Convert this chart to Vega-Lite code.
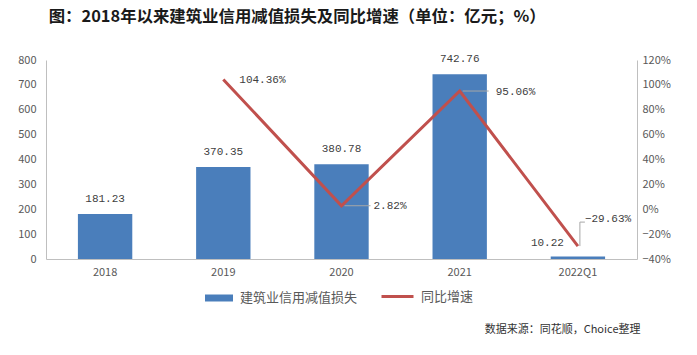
{
  "$schema": "https://vega.github.io/schema/vega-lite/v6.json",
  "width": 591,
  "height": 199,
  "autosize": {"type": "none"},
  "padding": {"left": 46, "top": 60, "right": 60, "bottom": 96},
  "config": {
    "font": "Noto Sans CJK SC",
    "view": {"stroke": null},
    "axis": {"labelColor": "#595959", "labelFontSize": 11, "ticks": false, "grid": false, "domainColor": "#bfbfbf", "labelFont": "Noto Sans CJK SC", "labelOverlap": false}
  },
  "title": {
    "text": "图：2018年以来建筑业信用减值损失及同比增速（单位：亿元；%）",
    "anchor": "start",
    "dx": 31,
    "offset": 28,
    "fontSize": 16.4,
    "fontWeight": "bold",
    "color": "#1a1a1a",
    "font": "Noto Sans CJK SC"
  },
  "data": {
    "values": [
      {"period": "2018", "loss": 181.23, "growth": null},
      {"period": "2019", "loss": 370.35, "growth": 1.0436},
      {"period": "2020", "loss": 380.78, "growth": 0.0282},
      {"period": "2021", "loss": 742.76, "growth": 0.9506},
      {"period": "2022Q1", "loss": 10.22, "growth": -0.2963}
    ]
  },
  "encoding": {
    "x": {
      "field": "period", "type": "nominal", "sort": null,
      "scale": {"paddingInner": 0.54, "paddingOuter": 0.27},
      "axis": {
        "labelAngle": 0, "labelPadding": 7,
        "title": "数据来源：同花顺，Choice整理",
        "titleAnchor": "end", "titleAlign": "right", "titleX": 594, "titleY": 70,
        "titleBaseline": "middle", "titleFontSize": 11, "titleFontWeight": "normal", "titleColor": "#333333"
      }
    }
  },
  "layer": [
    {
      "encoding": {
        "y": {"field": "loss", "type": "quantitative", "scale": {"domain": [0, 800]},
          "axis": {"orient": "left", "values": [0,100,200,300,400,500,600,700,800], "labelOverlap": false, "title": null, "labelPadding": 10}}
      },
      "layer": [
        {
          "mark": {"type": "bar", "color": "#4a7ebb"},
          "encoding": {
            "fill": {"datum": "建筑业信用减值损失", "type": "nominal",
              "scale": {"range": ["#4a7ebb"]},
              "legend": {"orient": "none", "legendX": 159, "legendY": 224, "title": null, "symbolType": "M-1,-0.25H1V0.25H-1Z", "symbolSize": 784,
                "symbolStrokeWidth": 0, "labelFontSize": 13, "labelColor": "#595959", "labelOffset": 7}}
          }
        },
        {
          "transform": [{"filter": "datum.period !== '2022Q1'"}],
          "mark": {"type": "text", "baseline": "bottom", "dy": -10, "font": "Liberation Mono", "fontSize": 11, "color": "#404040"},
          "encoding": {
            "text": {"field": "loss", "type": "quantitative", "format": ".2f"}
          }
        },
        {
          "transform": [{"filter": "datum.period === '2022Q1'"}],
          "mark": {"type": "text", "baseline": "bottom", "align": "right", "dx": -14, "dy": -8, "font": "Liberation Mono", "fontSize": 11, "color": "#404040"},
          "encoding": {
            "text": {"field": "loss", "type": "quantitative", "format": ".2f"}
          }
        }
      ]
    },
    {
      "encoding": {
        "y": {"field": "growth", "type": "quantitative", "scale": {"domain": [-0.4, 1.2]},
          "axis": {"orient": "right", "format": ".0%", "values": [-0.4,-0.2,0,0.2,0.4,0.6,0.8,1.0,1.2], "labelOverlap": false, "title": null, "labelPadding": 5}}
      },
      "layer": [
        {
          "transform": [{"filter": "datum.growth !== null"}],
          "mark": {"type": "line", "color": "#c0504d", "strokeWidth": 3},
          "encoding": {
            "stroke": {"datum": "同比增速", "type": "nominal",
              "scale": {"range": ["#c0504d"]},
              "legend": {"orient": "none", "legendX": 334, "legendY": 219, "title": null, "symbolType": "M-1,0H1", "symbolSize": 1024,
                "symbolStrokeWidth": 3, "labelFontSize": 13, "labelColor": "#595959", "labelOffset": 6}}
          }
        },
        {
          "transform": [{"filter": "datum.period === '2019'"}],
          "mark": {"type": "text", "align": "left", "baseline": "middle", "dx": 16, "dy": 1, "font": "Liberation Mono", "fontSize": 11, "color": "#404040"},
          "encoding": {"text": {"field": "growth", "type": "quantitative", "format": ".2%"}}
        },
        {
          "transform": [{"filter": "datum.period === '2020' || datum.period === '2021'"}],
          "mark": {"type": "rule", "color": "#a6a6a6", "strokeWidth": 1, "xOffset": 3, "x2Offset": 29},
          "encoding": {"x2": {"field": "period"}}
        },
        {
          "transform": [{"filter": "datum.period === '2020'"}],
          "mark": {"type": "text", "align": "left", "baseline": "middle", "dx": 32, "dy": 0, "font": "Liberation Mono", "fontSize": 11, "color": "#404040"},
          "encoding": {"text": {"field": "growth", "type": "quantitative", "format": ".2%"}}
        },
        {
          "transform": [{"filter": "datum.period === '2021'"}],
          "mark": {"type": "text", "align": "left", "baseline": "middle", "dx": 36, "dy": 1, "font": "Liberation Mono", "fontSize": 11, "color": "#404040"},
          "encoding": {"text": {"field": "growth", "type": "quantitative", "format": ".2%"}}
        },
        {
          "transform": [{"filter": "datum.period === '2022Q1'"}],
          "mark": {"type": "rule", "color": "#a6a6a6", "strokeWidth": 1, "xOffset": 2, "x2Offset": 2, "y2Offset": -24},
          "encoding": {"x2": {"field": "period"}, "y2": {"field": "growth"}}
        },
        {
          "transform": [{"filter": "datum.period === '2022Q1'"}],
          "mark": {"type": "rule", "color": "#a6a6a6", "strokeWidth": 1, "xOffset": 2, "x2Offset": 7, "yOffset": -24},
          "encoding": {"x2": {"field": "period"}}
        },
        {
          "transform": [{"filter": "datum.period === '2022Q1'"}],
          "mark": {"type": "text", "align": "left", "baseline": "middle", "dx": 7, "dy": -27, "font": "Liberation Mono", "fontSize": 11, "color": "#404040"},
          "encoding": {"text": {"field": "growth", "type": "quantitative", "format": ".2%"}}
        }
      ]
    }
  ],
  "resolve": {"scale": {"y": "independent"}}
}
